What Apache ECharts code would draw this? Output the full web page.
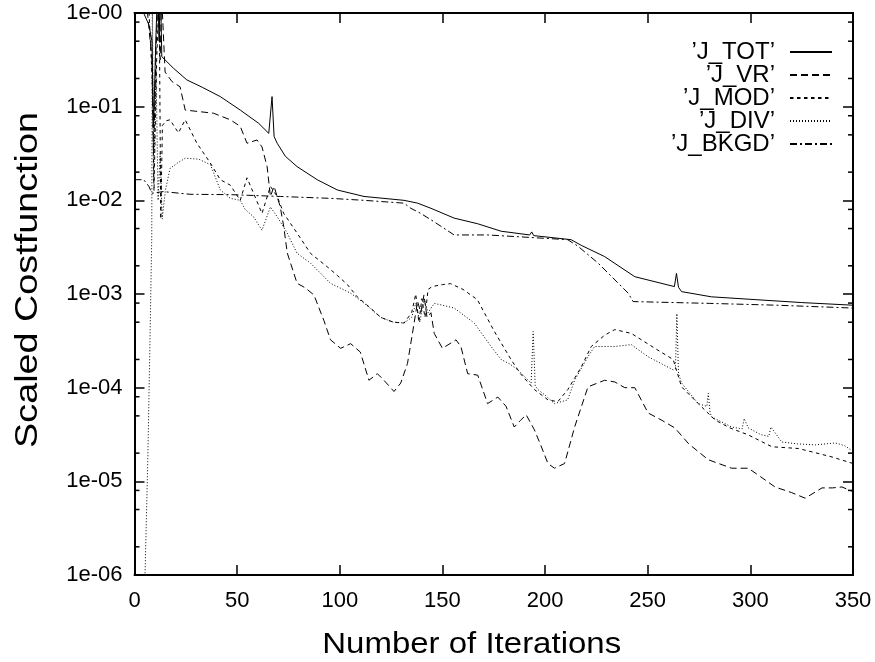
<!DOCTYPE html>
<html>
<head>
<meta charset="utf-8">
<script src="https://cdn.jsdelivr.net/npm/echarts@6/dist/echarts.min.js"></script>
<style>
html,body{margin:0;padding:0;background:#fff;}
#chart{width:875px;height:662px;}
</style>
</head>
<body>
<div id="chart"></div>
<script>
// ---------- data ----------
const seriesNames = ["\u2019J_TOT\u2019", "\u2019J_VR\u2019", "\u2019J_MOD\u2019", "\u2019J_DIV\u2019", "\u2019J_BKGD\u2019"];
const xTitle = 'Number of Iterations';
const yTitle = 'Scaled Costfunction';

const totX = [0, 4, 7, 8.5, 9.3, 10.3, 11.3, 12, 12.6, 13.3, 19, 25.5, 33, 41.8, 51.5, 60.5, 65.4, 67, 68, 69.5, 73.5, 79.2, 89, 98.8, 111.8, 131.3, 137.9, 144.4, 155.7, 167.2, 178.6, 192.5, 193.5, 194.5, 212.7, 217.6, 229, 243.7, 263, 264, 265, 266.5, 281, 302.3, 325, 350];
const totY = [1.6, 1.05, 0.75, 0.5, 0.06, 0.45, 2, 0.5, 2, 0.342, 0.257, 0.193, 0.161, 0.128, 0.092, 0.0664, 0.0519, 0.128, 0.048, 0.0407, 0.0295, 0.0229, 0.0166, 0.0129, 0.011, 0.01, 0.00933, 0.00822, 0.00646, 0.00562, 0.00468, 0.00427, 0.0046, 0.0042, 0.0038, 0.00331, 0.00251, 0.00153, 0.0012, 0.00166, 0.00118, 0.00106, 0.000933, 0.000871, 0.00081, 0.000759];

const vrX = [0, 6, 8.5, 9.3, 10.5, 11.5, 12.5, 13.2, 14.9, 18.2, 22.2, 24.7, 38.5, 46.7, 51.5, 54.8, 59.7, 62.1, 64.6, 66.2, 68, 71, 72.7, 74.4, 79.2, 83, 87.4, 92.2, 95.5, 100.4, 105.3, 110, 114.2, 118.3, 121.5, 126.4, 129.7, 133, 135.4, 137.9, 139.5, 141, 142.5, 144.4, 146, 150, 156.6, 159, 162.3, 167.2, 172, 177, 181, 185, 188, 190.8, 194.8, 198, 201.4, 204.6, 209.5, 214.4, 220.9, 229, 234, 238.8, 243.7, 250.2, 257, 263.2, 270, 279.5, 290.9, 299, 305, 312, 320, 326.7, 334.9, 340, 344.6, 350];
const vrY = [1.58, 1.2, 0.316, 0.0316, 0.398, 1.58, 0.316, 1.58, 0.234, 0.186, 0.163, 0.092, 0.0851, 0.0724, 0.0617, 0.0407, 0.0441, 0.0372, 0.0229, 0.011, 0.0141, 0.00851, 0.00525, 0.00275, 0.0013, 0.00117, 0.000977, 0.000525, 0.000324, 0.000263, 0.000295, 0.00024, 0.00012, 0.000141, 0.00012, 0.000091, 0.000112, 0.000182, 0.00038, 0.000832, 0.000631, 0.000977, 0.000562, 0.000631, 0.00038, 0.000263, 0.000324, 0.000275, 0.000141, 0.000136, 0.0000676, 0.0000794, 0.0000631, 0.000038, 0.0000447, 0.0000513, 0.0000355, 0.000024, 0.0000155, 0.0000138, 0.0000155, 0.000038, 0.000102, 0.00012, 0.000115, 0.0001, 0.0001, 0.0000537, 0.0000447, 0.0000372, 0.0000251, 0.000017, 0.0000138, 0.0000138, 0.0000112, 0.00000871, 0.00000759, 0.00000661, 0.00000851, 0.00000851, 0.00000871, 0.00000776];

const modX = [0, 7, 8.6, 9.5, 10.8, 12, 12.8, 13.6, 15.5, 17.3, 21.4, 24.7, 30.4, 36.9, 41.8, 46.7, 51.5, 54.8, 58, 62.1, 66.2, 69.5, 72.7, 79.2, 85.7, 93.9, 98.8, 103.7, 108.5, 115, 120, 126, 131.3, 135, 137, 138.5, 140, 141.5, 143, 145, 150, 154, 160, 167, 175.3, 183.4, 188, 192, 194.8, 201.4, 206.2, 211.1, 217.6, 222.5, 229, 233.9, 242, 253.5, 262.4, 266.5, 274.6, 282.8, 290, 299, 310.5, 323.5, 339.8, 350];
const modY = [1.41, 1.12, 0.2, 0.0126, 0.316, 1.58, 0.00631, 0.0631, 0.0708, 0.0724, 0.0525, 0.0724, 0.0407, 0.0251, 0.0166, 0.0145, 0.01, 0.0174, 0.0119, 0.00724, 0.0141, 0.011, 0.00724, 0.00447, 0.00272, 0.00195, 0.00158, 0.00126, 0.000933, 0.000708, 0.000562, 0.000501, 0.00049, 0.000631, 0.001, 0.000501, 0.000891, 0.000562, 0.00112, 0.0012, 0.00126, 0.00129, 0.00112, 0.000871, 0.000398, 0.0002, 0.000141, 0.000112, 0.0000955, 0.0000741, 0.0000708, 0.0000955, 0.000166, 0.000275, 0.000363, 0.000417, 0.00038, 0.000263, 0.0002, 0.000102, 0.0000676, 0.0000452, 0.0000372, 0.0000313, 0.0000234, 0.0000224, 0.0000182, 0.0000155];

const divX = [4.8, 6.5, 7.5, 8.4, 8.7, 9.3, 10.5, 11.5, 12.5, 13.5, 15, 17.3, 21, 24.8, 31.3, 37, 41.8, 46.7, 51.5, 54, 58, 62.1, 66.2, 69.5, 74.4, 79.2, 85.7, 95.5, 105.3, 112, 120, 126, 131.3, 135, 137, 139, 141, 143, 146, 150, 155.7, 160, 165.5, 173.7, 178.6, 183, 186.7, 193.2, 194.2, 195.2, 196.5, 200, 204.6, 211, 214.4, 220.9, 224.1, 233.9, 242, 250.2, 262.4, 263.5, 264.2, 265, 266.5, 274.6, 278.8, 279.5, 280.3, 281, 290.9, 296, 297, 299, 305, 309, 310, 315.3, 323, 331.6, 341.4, 346, 350];
const divY = [5e-7, 1.78e-5, 2.82e-4, 0.00398, 1.58, 0.0158, 0.251, 0.01, 0.0316, 0.00631, 0.0126, 0.0219, 0.0251, 0.0282, 0.0275, 0.024, 0.0129, 0.0105, 0.01, 0.00794, 0.00668, 0.00479, 0.00851, 0.00668, 0.00447, 0.00272, 0.00214, 0.0013, 0.00102, 0.000794, 0.000562, 0.000501, 0.00049, 0.000562, 0.000794, 0.000501, 0.000891, 0.000631, 0.000794, 0.000759, 0.000708, 0.000603, 0.00049, 0.000275, 0.0002, 0.000178, 0.000155, 0.000112, 0.000398, 0.000105, 0.0000955, 0.0000832, 0.0000676, 0.0000741, 0.00012, 0.000214, 0.000275, 0.000275, 0.000288, 0.000214, 0.000155, 0.000158, 0.000617, 0.000141, 0.000112, 0.0000676, 0.0000631, 0.0000871, 0.0000562, 0.000049, 0.000038, 0.0000363, 0.0000468, 0.0000372, 0.0000316, 0.0000302, 0.000038, 0.0000263, 0.0000251, 0.0000245, 0.0000257, 0.000024, 0.0000209];

const bkgdX = [0, 4.5, 7, 8.5, 14, 27, 46.7, 71, 95.5, 111.8, 131.3, 134.6, 139.5, 146, 155.7, 172, 188.3, 211, 216, 225.8, 240.5, 242.9, 280, 313, 350];
const bkgdY = [0.0166, 0.0166, 0.0141, 0.0119, 0.0124, 0.0116, 0.0115, 0.011, 0.0105, 0.01, 0.00933, 0.00822, 0.00724, 0.00589, 0.00427, 0.00427, 0.00407, 0.0038, 0.00324, 0.00214, 0.00102, 0.00083, 0.000794, 0.000759, 0.000708];

// minor tick values on the log axis (2, 5, 8 in every decade)
const yMinorTicks = [2e-6, 5e-6, 8e-6, 2e-5, 5e-5, 8e-5, 2e-4, 5e-4, 8e-4, 2e-3, 5e-3, 8e-3, 0.02, 0.05, 0.08, 0.2, 0.5, 0.8];
const xMin = 0, xMax = 350;

// ---------- chart ----------
const FONT = 'Liberation Sans, Arial, Helvetica, sans-serif';
const pairs = (xs, ys) => xs.map((x, i) => [x, ys[i]]);
const lineDefs = [
  { x: totX, y: totY, type: 'solid' },
  { x: vrX, y: vrY, type: [7, 4] },
  { x: modX, y: modY, type: [3.5, 3.5] },
  { x: divX, y: divY, type: [1, 2] },
  { x: bkgdX, y: bkgdY, type: [7, 3, 2, 3] }
];

const series = lineDefs.map((d, i) => ({
  name: seriesNames[i],
  type: 'line',
  xAxisIndex: 0,
  yAxisIndex: 0,
  data: pairs(d.x, d.y),
  symbol: 'none',
  smooth: false,
  clip: true,
  lineStyle: { color: '#000', width: 1, type: d.type },
  itemStyle: { color: '#000' },
  emphasis: { disabled: true },
  z: 3
}));

// minor ticks on the left and right frame, placed through the log axis
[[xMin, 2.5], [xMax, -2.5]].forEach(([xv, off]) => {
  series.push({
    type: 'scatter',
    name: 'minor' + xv,
    xAxisIndex: 0,
    yAxisIndex: 0,
    silent: true,
    clip: false,
    z: 6,
    symbol: 'rect',
    symbolSize: [5, 1.5],
    symbolOffset: [off, 0],
    itemStyle: { color: '#000', opacity: 1 },
    emphasis: { disabled: true },
    data: yMinorTicks.map(v => [xv, v])
  });
});

const yFmt = v => {
  const e = Math.round(-Math.log10(v));
  return '1e-' + String(e).padStart(2, '0');
};

const axisLine = { show: true, onZero: false, lineStyle: { color: '#000', width: 2 } };
const tick = { show: true, inside: true, length: 10, lineStyle: { color: '#000', width: 1.5 } };

const option = {
  animation: false,
  backgroundColor: '#fff',
  grid: { left: 134.5, right: 22, top: 13, bottom: 87, containLabel: false },
  legend: {
    data: seriesNames,
    orient: 'vertical',
    right: 37,
    top: 35,
    align: 'right',
    itemWidth: 42,
    itemHeight: 14,
    itemGap: -1,
    selectedMode: false,
    itemStyle: { opacity: 0 },
    textStyle: { fontFamily: FONT, fontSize: 24, color: '#000', padding: [0, 10, 0, 0] }
  },
  graphic: [
    {
      type: 'text', x: 471.7, y: 645, scaleX: 1.1, silent: true,
      style: { text: xTitle, fontFamily: FONT, fontSize: 30, fill: '#000', align: 'center', verticalAlign: 'middle' }
    },
    {
      type: 'text', x: 28, y: 280, rotation: Math.PI / 2, scaleX: 1.18, silent: true,
      style: { text: yTitle, fontFamily: FONT, fontSize: 32, fill: '#000', align: 'center', verticalAlign: 'middle' }
    }
  ],
  xAxis: [
    {
      type: 'value', min: xMin, max: xMax, interval: 50, position: 'bottom',
      axisLine: axisLine, axisTick: tick,
      axisLabel: { fontFamily: FONT, fontSize: 22, color: '#000', margin: 15 },
      splitLine: { show: false }
    },
    {
      type: 'value', min: xMin, max: xMax, interval: 50, position: 'top',
      axisLine: axisLine, axisTick: tick,
      axisLabel: { show: false },
      splitLine: { show: false }
    }
  ],
  yAxis: [
    {
      type: 'log', logBase: 10, min: 1e-6, max: 1, position: 'left',
      axisLine: axisLine, axisTick: tick,
      axisLabel: { fontFamily: FONT, fontSize: 22, color: '#000', margin: 12, formatter: yFmt },
      splitLine: { show: false },
      minorTick: { show: false }
    },
    {
      type: 'log', logBase: 10, min: 1e-6, max: 1, position: 'right',
      axisLine: axisLine, axisTick: tick,
      axisLabel: { show: false },
      splitLine: { show: false }
    }
  ],
  series: series
};

const chart = echarts.init(document.getElementById('chart'), null, { renderer: 'canvas' });
chart.setOption(option);
</script>
</body>
</html>
